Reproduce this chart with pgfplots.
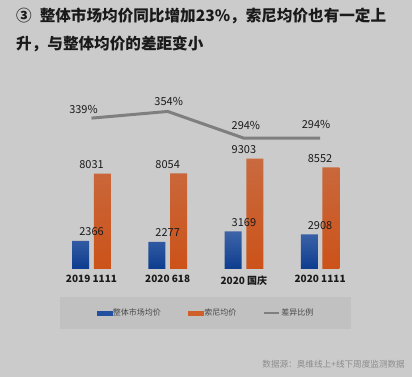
\documentclass[border=0pt]{standalone}
\usepackage{pgfplots}
\pgfplotsset{compat=1.18}
\usepackage{pgfplotstable}
\usepackage{fontspec}
\setmainfont{Noto Sans CJK SC}
\definecolor{bg}{HTML}{CBCBCB}
\definecolor{legbg}{HTML}{C1C1C1}
\definecolor{blueTop}{HTML}{3D64A8}
\definecolor{blueBot}{HTML}{0E3D8F}
\definecolor{blueMid}{HTML}{2250A0}
\definecolor{orTop}{HTML}{C96A3F}
\definecolor{orBot}{HTML}{CC5219}
\definecolor{orMid}{HTML}{D0602A}
\definecolor{lineGray}{HTML}{7F7F7F}
\definecolor{txt}{HTML}{1A1A1A}
\pgfplotstableread{
x y dx dy
0 339 -8 0
1 354 1 1
2 294 2 4
3 294 -4 5
}\ratio
\begin{document}
\begin{tikzpicture}[x=1pt,y=1pt]
\fill[bg] (0,0) rectangle (412,377);
\node[anchor=west, inner sep=0pt, text=txt, font=\fontsize{15.6}{18}\selectfont\bfseries] at (16,361) {③\hspace{8pt}整体市场均价同比增加23\%，索尼均价也有一定上};
\node[anchor=west, inner sep=0pt, text=txt, font=\fontsize{15.6}{18}\selectfont\bfseries] at (16,333.5) {升，与整体均价的差距变小};
\begin{axis}[
  at={(91.5pt,108pt)}, anchor=origin,
  scale only axis, width=381pt, height=170pt,
  xmin=-1, xmax=4, ymin=0, ymax=14322,
  axis x line*=bottom, axis y line=none,
  x axis line style={draw=none},
  major tick length=0pt,
  xtick={0,1,2,3},
  xticklabels={2019 1111,2020 618,2020 国庆,2020 1111},
  xticklabel style={font=\fontsize{10}{12}\selectfont\bfseries, text=txt, yshift=-3pt},
  ytick=\empty,
  /pgf/number format/assume math mode=true,
  /pgf/number format/1000 sep={},
  nodes near coords style={font=\fontsize{11}{13}\selectfont, text=txt, anchor=south, yshift=1.5pt},
]
\addplot[ybar, bar width=17pt, bar shift=-10.85pt, draw=none, top color=blueTop, bottom color=blueBot, nodes near coords]
  coordinates {(0,2366) (1,2277) (2,3169) (3,2908)};
\addplot[ybar, bar width=17pt, bar shift=10.85pt, draw=none, top color=orTop, bottom color=orBot, nodes near coords]
  coordinates {(0,8031) (1,8054) (2,9303) (3,8552)};
\end{axis}
\begin{axis}[
  at={(91.5pt,108pt)}, anchor=origin,
  scale only axis, width=381pt, height=170pt,
  xmin=-1, xmax=4, ymin=0, ymax=382,
  hide axis,
  /pgf/number format/assume math mode=true,
  legend columns=3,
  legend style={at={(0.4992,-0.2588)}, anchor=center, draw=none, fill=legbg,
    font=\fontsize{8}{10}\selectfont, text=txt!80,
    inner xsep=37pt, inner ysep=10.5pt,
    /tikz/every even column/.append style={column sep=26pt},
    nodes={inner sep=1pt}},
  legend cell align=left,
]
\addlegendimage{legend image code/.code={\fill[blueMid] (0pt,-2pt) rectangle (15pt,2pt);}}
\addlegendentry{整体市场均价}
\addlegendimage{legend image code/.code={\fill[orMid] (0pt,-2pt) rectangle (15pt,2pt);}}
\addlegendentry{索尼均价}
\addplot[lineGray, line width=3pt, mark=none,
  legend image code/.code={\draw[lineGray, line width=2pt] (0pt,0pt) -- (15pt,0pt);},
  visualization depends on={\thisrow{dx} \as \dx},
  visualization depends on={\thisrow{dy} \as \dy},
  nodes near coords={\pgfmathprintnumber{\pgfplotspointmeta}\%},
  every node near coord/.append style={font=\fontsize{11}{13}\selectfont, text=txt, anchor=south, xshift=\dx pt, yshift=\dy pt},
] table[x=x, y=y] {\ratio};
\addlegendentry{差异比例}
\end{axis}
\node[anchor=east, inner sep=0pt, text=lineGray!90, font=\fontsize{8.6}{10}\selectfont] at (405,13) {数据源：奥维线上+线下周度监测数据};
\pgfresetboundingbox
\path (0,0) rectangle (412,377);
\end{tikzpicture}
\end{document}
